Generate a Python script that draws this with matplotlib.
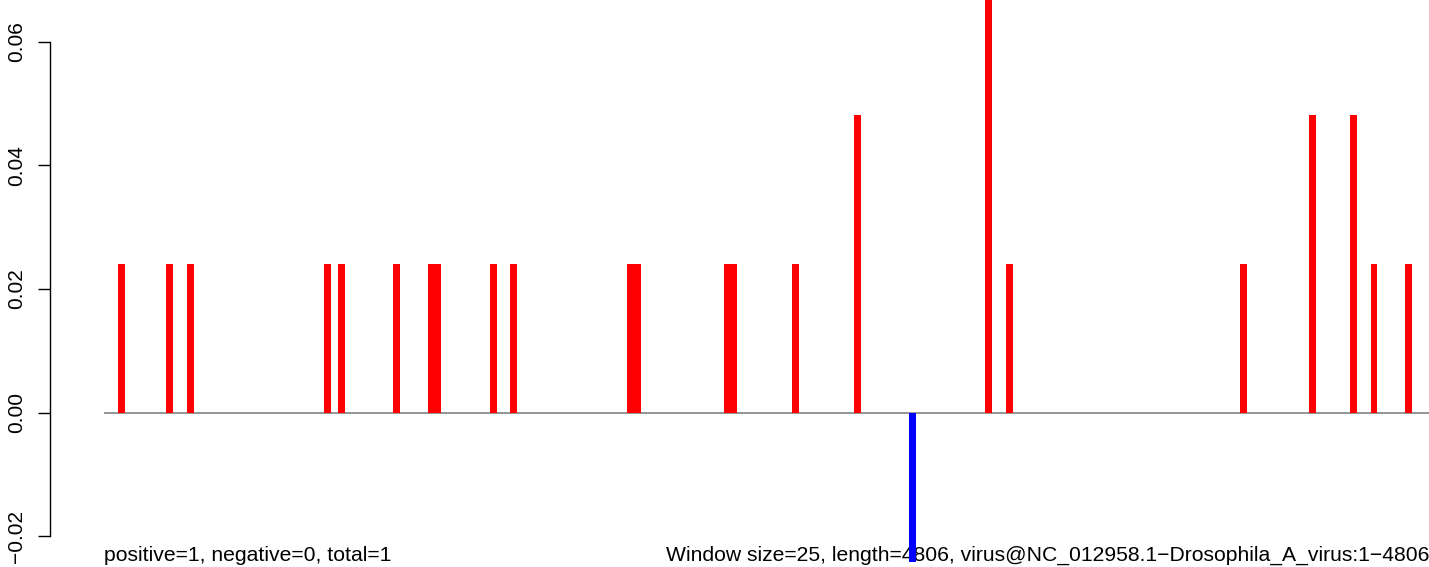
import matplotlib
matplotlib.use("Agg")
import matplotlib.pyplot as plt

plt.rcParams['font.family'] = ['Liberation Sans', 'DejaVu Sans']

# window index (window size 25) and normalised score
windows = [2, 9, 12, 32, 34, 42, 47, 48, 56, 59, 76, 77, 90, 91, 100,
           109, 117, 128, 131, 165, 175, 181, 184, 189]
values = [0.0241, 0.0241, 0.0241, 0.0241, 0.0241, 0.0241, 0.0241, 0.0241,
          0.0241, 0.0241, 0.0241, 0.0241, 0.0241, 0.0241, 0.0241,
          0.0482, -0.0241, 0.0723, 0.0241, 0.0241, 0.0482, 0.0482,
          0.0241, 0.0241]
seq_length = 4806
window_size = 25
yticks = [-0.02, 0.00, 0.02, 0.04, 0.06]
ytick_labels = ['\u22120.02', '0.00', '0.02', '0.04', '0.06']
left_text = "positive=1, negative=0, total=1"
right_text = ("Window size=25, length=4806, "
              "virus@NC_012958.1\u2212Drosophila_A_virus:1\u22124806")

fig = plt.figure(figsize=(14.29, 5.67), dpi=100)
ax = fig.add_axes([0, 0, 1, 1])
ax.set_xlim(-15.145, 192.49)
ax.set_ylim(-0.02497, 0.06674)
ax.patch.set_alpha(0)

xmax = seq_length / window_size
ax.plot([0, xmax + 0.3], [0, 0], color='#8c8c8c', lw=1.3, zorder=1,
        solid_capstyle='butt')

ax.text(0, -0.0240, left_text, ha='left', va='baseline', fontsize=15.2,
        zorder=2)
ax.text(xmax + 0.3, -0.0240, right_text, ha='right', va='baseline',
        fontsize=15.2, zorder=2)

colors = ['#ff0000' if v > 0 else '#0000ff' for v in values]
ax.bar(windows, values, width=1.0, align='edge', color=colors,
       linewidth=0, zorder=3)

for s in ['top', 'right', 'bottom']:
    ax.spines[s].set_visible(False)
ax.spines['left'].set_position(('data', -7.88))
ax.spines['left'].set_bounds(-0.02, 0.06)
ax.spines['left'].set_linewidth(1.0)
ax.set_xticks([])
ax.set_yticks(yticks)
ax.set_yticklabels(ytick_labels, rotation=90, va='center')
ax.tick_params(axis='y', length=8.6, width=1.0, pad=8.5, labelsize=15,
               direction='out')

fig.savefig('out.png', dpi=100)
